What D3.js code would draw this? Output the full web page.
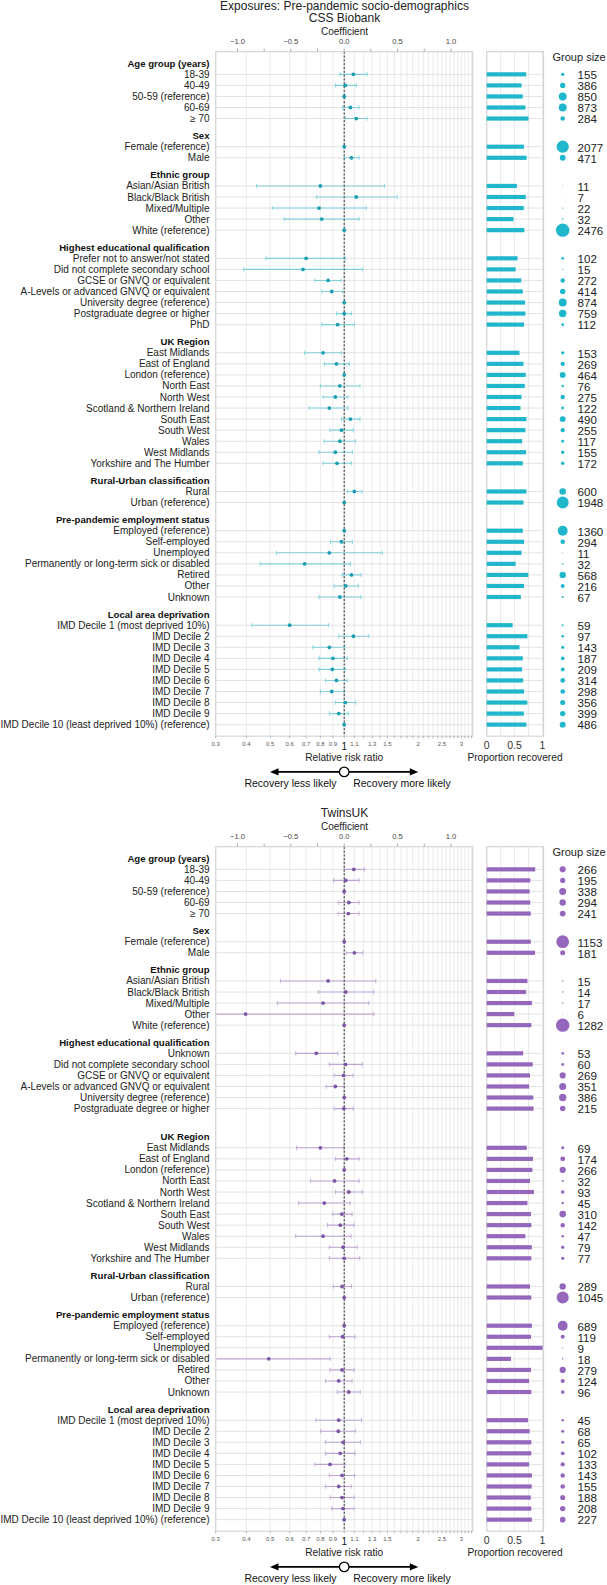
<!DOCTYPE html>
<html><head><meta charset="utf-8">
<script src="https://cdn.jsdelivr.net/npm/d3@7"></script>
<style>
body{margin:0;background:#fff}
svg{display:block}
text{font-family:"Liberation Sans",Arial,Helvetica,sans-serif}
</style>
</head><body>
<svg id="c" width="607" height="1585"></svg>
<script>
// ---------------- DATA ----------------
const mainTitle = "Exposures: Pre-pandemic socio-demographics";
const groupTitles = ["Age group (years)", "Sex", "Ethnic group", "Highest educational qualification",
  "UK Region", "Rural-Urban classification", "Pre-pandemic employment status", "Local area deprivation"];

const ageLabels = ["18-39", "40-49", "50-59 (reference)", "60-69", "≥ 70"];
const sexLabels = ["Female (reference)", "Male"];
const ethnicLabels = ["Asian/Asian British", "Black/Black British", "Mixed/Multiple", "Other", "White (reference)"];
const eduLabelsCSS = ["Prefer not to answer/not stated", "Did not complete secondary school", "GCSE or GNVQ or equivalent",
  "A-Levels or advanced GNVQ or equivalent", "University degree (reference)", "Postgraduate degree or higher", "PhD"];
const eduLabelsTwins = ["Unknown", "Did not complete secondary school", "GCSE or GNVQ or equivalent",
  "A-Levels or advanced GNVQ or equivalent", "University degree (reference)", "Postgraduate degree or higher", null];
const regionLabels = ["East Midlands", "East of England", "London (reference)", "North East", "North West",
  "Scotland & Northern Ireland", "South East", "South West", "Wales", "West Midlands", "Yorkshire and The Humber"];
const ruralLabels = ["Rural", "Urban (reference)"];
const employLabels = ["Employed (reference)", "Self-employed", "Unemployed", "Permanently or long-term sick or disabled",
  "Retired", "Other", "Unknown"];
const imdLabels = ["IMD Decile 1 (most deprived 10%)", "IMD Decile 2", "IMD Decile 3", "IMD Decile 4", "IMD Decile 5",
  "IMD Decile 6", "IMD Decile 7", "IMD Decile 8", "IMD Decile 9", "IMD Decile 10 (least deprived 10%) (reference)"];

// CSS Biobank: relative risk ratio estimate, lower and upper 95% CI
const cssRR = [
  [1.09, 1.01, 1, 1.06, 1.12],
  [1, 1.07],
  [0.80, 1.12, 0.79, 0.81, 1],
  [0.70, 0.68, 0.86, 0.89, 1, 1.00, 0.94],
  [0.82, 0.93, 1, 0.96, 0.92, 0.87, 1.06, 0.975, 0.96, 0.92, 0.935],
  [1.10, 1],
  [1, 0.975, 0.87, 0.69, 1.07, 1.015, 0.96],
  [0.60, 1.09, 0.87, 0.90, 0.895, 0.93, 0.89, 1.01, 0.95, 1]
];
const cssLower = [
  [0.96, 0.92, null, 0.985, 1.01],
  [null, 1.00],
  [0.44, 0.77, 0.51, 0.57, null],
  [0.48, 0.39, 0.76, 0.81, null, 0.93, 0.81],
  [0.69, 0.83, null, 0.80, 0.82, 0.72, 0.975, 0.875, 0.83, 0.79, 0.82],
  [1.03, null],
  [null, 0.88, 0.53, 0.455, 0.98, 0.91, 0.79],
  [0.42, 0.95, 0.745, 0.79, 0.79, 0.84, 0.80, 0.92, 0.87, null]
];
const cssUpper = [
  [1.24, 1.12, null, 1.15, 1.24],
  [null, 1.15],
  [1.46, 1.64, 1.23, 1.15, null],
  [1.01, 1.19, 0.97, 0.985, null, 1.07, 1.10],
  [0.975, 1.05, null, 1.16, 1.035, 1.035, 1.16, 1.09, 1.11, 1.08, 1.07],
  [1.18, null],
  [null, 1.08, 1.43, 1.06, 1.17, 1.14, 1.17],
  [0.865, 1.26, 1.006, 1.03, 1.01, 1.03, 1.0, 1.11, 1.04, null]
];
const cssProp = [
  [0.708, 0.625, 0.646, 0.694, 0.75],
  [0.667, 0.715],
  [0.54, 0.70, 0.665, 0.48, 0.676],
  [0.553, 0.518, 0.618, 0.647, 0.688, 0.694, 0.67],
  [0.588, 0.659, 0.70, 0.682, 0.624, 0.606, 0.712, 0.694, 0.635, 0.706, 0.647],
  [0.712, 0.659],
  [0.647, 0.67, 0.624, 0.518, 0.747, 0.67, 0.612],
  [0.465, 0.729, 0.588, 0.647, 0.635, 0.653, 0.67, 0.729, 0.665, 0.712]
];
const cssN = [
  [155, 386, 850, 873, 284],
  [2077, 471],
  [11, 7, 22, 32, 2476],
  [102, 15, 272, 414, 874, 759, 112],
  [153, 269, 464, 76, 275, 122, 490, 255, 117, 155, 172],
  [600, 1948],
  [1360, 294, 11, 32, 568, 216, 67],
  [59, 97, 143, 187, 209, 314, 298, 356, 399, 486]
];

// TwinsUK
const twinsRR = [
  [1.094, 1.015, 1, 1.045, 1.04],
  [1, 1.10],
  [0.86, 1.015, 0.82, 0.397, 1],
  [0.77, 1.012, 0.994, 0.92, 1, 0.997, null],
  [0.80, 1.025, 1, 0.914, 1.044, 0.83, 0.978, 0.964, 0.82, 0.99, 1.0],
  [0.98, 1],
  [1, 0.985, null, 0.493, 0.98, 0.95, 1.044],
  [0.95, 0.946, 0.99, 0.964, 0.876, 0.98, 0.95, 0.98, 0.988, 1]
];
const twinsLower = [
  [1.0, 0.905, null, 0.95, 0.945],
  [null, 1.02],
  [0.55, 0.786, 0.534, 0.2, null],
  [0.635, 0.87, 0.91, 0.844, null, 0.91, null],
  [0.64, 0.92, null, 0.73, 0.92, 0.653, 0.898, 0.855, 0.635, 0.87, 0.87],
  [0.903, null],
  [null, 0.87, null, 0.2, 0.875, 0.84, 0.937],
  [0.767, 0.803, 0.84, 0.84, 0.76, 0.87, 0.84, 0.878, 0.89, null]
];
const twinsUpper = [
  [1.21, 1.15, null, 1.15, 1.15],
  [null, 1.19],
  [1.345, 1.32, 1.26, 1.32, null],
  [0.943, 1.185, 1.087, 1.0, null, 1.09, null],
  [0.997, 1.15, null, 1.15, 1.185, 1.057, 1.077, 1.097, 1.067, 1.128, 1.156],
  [1.07, null],
  [null, 1.107, null, 0.878, 1.097, 1.077, 1.163],
  [1.178, 1.11, 1.163, 1.107, 1.009, 1.104, 1.07, 1.097, 1.097, null]
];
const twinsProp = [
  [0.87, 0.78, 0.77, 0.78, 0.79],
  [0.79, 0.865],
  [0.73, 0.706, 0.81, 0.494, 0.80],
  [0.653, 0.824, 0.776, 0.76, 0.835, 0.84, null],
  [0.718, 0.83, 0.818, 0.776, 0.847, 0.73, 0.794, 0.80, 0.694, 0.81, 0.80],
  [0.776, 0.80],
  [0.81, 0.794, 1.0, 0.435, 0.794, 0.76, 0.80],
  [0.74, 0.77, 0.80, 0.80, 0.76, 0.81, 0.806, 0.79, 0.80, 0.81]
];
const twinsN = [
  [266, 195, 338, 294, 241],
  [1153, 181],
  [15, 14, 17, 6, 1282],
  [53, 60, 269, 351, 386, 215, null],
  [69, 174, 266, 32, 93, 45, 310, 142, 47, 79, 77],
  [289, 1045],
  [689, 119, 9, 18, 279, 124, 96],
  [45, 68, 65, 102, 133, 143, 155, 188, 208, 227]
];

const rrGridValues = d3.range(3, 34).map(d => d / 10);
const rrTickLabels = [0.3, 0.4, 0.5, 0.6, 0.7, 0.8, 0.9, 1.1, 1.3, 1.5, 2, 2.5, 3];
const coefTicks = [-1, -0.75, -0.5, -0.25, 0, 0.25, 0.5, 0.75, 1];
const coefTickLabels = [-1, -0.5, 0, 0.5, 1];
const propTicks = [0, 0.5, 1];
const propGrid = [0, 0.25, 0.5, 0.75, 1];

// ---------------- DRAWING ----------------
const svg = d3.select("#c");
const forestX = [215.7, 472.7];
const rrScale = d3.scaleLog().domain([0.3, 1 / 0.3]).range(forestX);
const coefScale = d3.scaleLinear().domain([Math.log(0.3), -Math.log(0.3)]).range(forestX);
const propScale = d3.scaleLinear().domain([0, 1]).range([486.7, 542.5]);
const propPanel = [486.7, 543.5];
const labelRight = 209.5;
const legendCircleX = 562.7, legendTextX = 577.5;

function drawCohort(cfg) {
  const g = svg.append("g");
  const top = cfg.top;            // panel top
  const bottom = top + 684.5;     // panel bottom
  const firstRow = top + 11.6;
  const labelGroups = [ageLabels, sexLabels, ethnicLabels, cfg.eduLabels, regionLabels, ruralLabels, employLabels, imdLabels];

  // slot positions
  const rows = [], headers = [];
  let pos = 0;
  labelGroups.forEach((labs, gi) => {
    if (gi > 0) pos += 1.55; else pos = 0;
    headers.push({ title: groupTitles[gi], pos });
    labs.forEach((lab, i) => {
      pos += 1;
      rows.push({ label: lab, pos, rr: cfg.rr[gi][i], lo: cfg.lo[gi][i], hi: cfg.hi[gi][i],
        prop: cfg.prop[gi][i], n: cfg.n[gi][i] });
    });
  });
  const y = d3.scaleLinear().domain([0, 1]).range([firstRow, firstRow + 11.05]);

  // titles
  if (cfg.mainTitle) {
    g.append("text").attr("x", 344.5).attr("y", top - 45.7).attr("text-anchor", "middle")
      .attr("dominant-baseline", "central").attr("font-size", 12).attr("fill", "#222").text(cfg.mainTitle);
  }
  g.append("text").attr("x", 344.5).attr("y", top - 33.4).attr("text-anchor", "middle")
    .attr("dominant-baseline", "central").attr("font-size", 12).attr("fill", "#222").text(cfg.title);
  g.append("text").attr("x", 344.5).attr("y", top - 20).attr("text-anchor", "middle")
    .attr("dominant-baseline", "central").attr("font-size", 10).attr("fill", "#222").text("Coefficient");

  // panels
  g.append("rect").attr("x", forestX[0]).attr("y", top).attr("width", forestX[1] - forestX[0])
    .attr("height", bottom - top).attr("fill", "#fff");
  g.append("rect").attr("x", propPanel[0]).attr("y", top).attr("width", propPanel[1] - propPanel[0])
    .attr("height", bottom - top).attr("fill", "#fff");

  // vertical grid (forest)
  g.append("g").selectAll("line").data(rrGridValues.filter(v => v < 3.33)).join("line")
    .attr("x1", d => rrScale(d)).attr("x2", d => rrScale(d)).attr("y1", top).attr("y2", bottom)
    .attr("stroke", "#e6e6e6").attr("stroke-width", 0.8);
  // vertical grid (prop)
  g.append("g").selectAll("line").data(propGrid).join("line")
    .attr("x1", d => propScale(d)).attr("x2", d => propScale(d)).attr("y1", top).attr("y2", bottom)
    .attr("stroke", "#e3e3e3").attr("stroke-width", 0.8);

  const items = rows.filter(r => r.label !== null);
  // horizontal grid
  g.append("g").selectAll("line").data(items).join("line")
    .attr("x1", forestX[0]).attr("x2", forestX[1]).attr("y1", d => y(d.pos)).attr("y2", d => y(d.pos))
    .attr("stroke", "#e2e2e2").attr("stroke-width", 1);
  g.append("g").selectAll("line").data(items).join("line")
    .attr("x1", propPanel[0]).attr("x2", propPanel[1]).attr("y1", d => y(d.pos)).attr("y2", d => y(d.pos))
    .attr("stroke", "#e2e2e2").attr("stroke-width", 1);

  // dashed line at RR=1
  g.append("line").attr("x1", rrScale(1)).attr("x2", rrScale(1)).attr("y1", top).attr("y2", bottom)
    .attr("stroke", "#111").attr("stroke-width", 0.9).attr("stroke-dasharray", "2.2,1.6");

  // clip
  const clipId = "clip" + cfg.key;
  svg.append("clipPath").attr("id", clipId).append("rect")
    .attr("x", forestX[0]).attr("y", top).attr("width", forestX[1] - forestX[0]).attr("height", bottom - top);
  const fg = g.append("g").attr("clip-path", `url(#${clipId})`);

  const ci = items.filter(d => d.lo !== null && d.hi !== null);
  fg.append("g").selectAll("line").data(ci).join("line")
    .attr("x1", d => rrScale(d.lo)).attr("x2", d => rrScale(d.hi))
    .attr("y1", d => y(d.pos)).attr("y2", d => y(d.pos))
    .attr("stroke", cfg.color).attr("stroke-opacity", 0.5).attr("stroke-width", 1.1);
  const caps = [];
  ci.forEach(d => { caps.push({ v: d.lo, pos: d.pos }); caps.push({ v: d.hi, pos: d.pos }); });
  fg.append("g").selectAll("line").data(caps).join("line")
    .attr("x1", d => rrScale(d.v)).attr("x2", d => rrScale(d.v))
    .attr("y1", d => y(d.pos) - 2.3).attr("y2", d => y(d.pos) + 2.3)
    .attr("stroke", cfg.color).attr("stroke-opacity", 0.5).attr("stroke-width", 0.9);
  fg.append("g").selectAll("circle").data(items.filter(d => d.rr !== null)).join("circle")
    .attr("cx", d => rrScale(d.rr)).attr("cy", d => y(d.pos)).attr("r", 1.9)
    .attr("fill", cfg.dark);

  // panel borders
  g.append("rect").attr("x", forestX[0]).attr("y", top).attr("width", forestX[1] - forestX[0])
    .attr("height", bottom - top).attr("fill", "none").attr("stroke", "#d6d6d6").attr("stroke-width", 1.2);
  g.append("rect").attr("x", propPanel[0]).attr("y", top).attr("width", propPanel[1] - propPanel[0])
    .attr("height", bottom - top).attr("fill", "none").attr("stroke", "#d6d6d6").attr("stroke-width", 1.2);

  // proportion bars
  g.append("g").selectAll("rect").data(items.filter(d => d.prop !== null)).join("rect")
    .attr("x", propScale(0)).attr("y", d => y(d.pos) - 2.1)
    .attr("width", d => propScale(d.prop) - propScale(0)).attr("height", 4.2)
    .attr("fill", cfg.color);

  // labels
  g.append("g").selectAll("text").data(items).join("text")
    .attr("x", labelRight).attr("y", d => y(d.pos)).attr("text-anchor", "end")
    .attr("dominant-baseline", "central").attr("font-size", 10).attr("fill", "#222").text(d => d.label);
  g.append("g").selectAll("text").data(headers).join("text")
    .attr("x", labelRight).attr("y", d => y(d.pos)).attr("text-anchor", "end")
    .attr("dominant-baseline", "central").attr("font-size", 9.6).attr("font-weight", "bold")
    .attr("fill", "#111").text(d => d.title);

  // top coefficient axis
  g.append("g").selectAll("line").data(coefTicks).join("line")
    .attr("x1", d => coefScale(d)).attr("x2", d => coefScale(d)).attr("y1", top - 3).attr("y2", top - 0.5)
    .attr("stroke", "#666").attr("stroke-width", 0.6);
  g.append("g").selectAll("text").data(coefTickLabels).join("text")
    .attr("x", d => coefScale(d)).attr("y", top - 10).attr("text-anchor", "middle")
    .attr("dominant-baseline", "central").attr("font-size", 7.6).attr("fill", "#444")
    .text(d => (d < 0 ? "\u2212" : "") + d3.format(".1f")(Math.abs(d)));

  // bottom RR axis
  g.append("g").selectAll("line").data(rrGridValues.filter(v => v < 3.33)).join("line")
    .attr("x1", d => rrScale(d)).attr("x2", d => rrScale(d)).attr("y1", bottom).attr("y2", bottom + 2.2)
    .attr("stroke", "#777").attr("stroke-width", 0.5);
  g.append("g").selectAll("text").data(rrTickLabels).join("text")
    .attr("x", d => rrScale(d)).attr("y", bottom + 7.3).attr("text-anchor", "middle")
    .attr("dominant-baseline", "central").attr("font-size", 6).attr("fill", "#555").text(d => d);
  g.append("text").attr("x", rrScale(1)).attr("y", bottom + 9.8).attr("text-anchor", "middle")
    .attr("dominant-baseline", "central").attr("font-size", 10).attr("fill", "#111").text("1");
  g.append("text").attr("x", rrScale(1)).attr("y", bottom + 21.3).attr("text-anchor", "middle")
    .attr("dominant-baseline", "central").attr("font-size", 10.2).attr("fill", "#222").text("Relative risk ratio");

  // prop axis
  g.append("g").selectAll("text").data(propTicks).join("text")
    .attr("x", d => propScale(d)).attr("y", bottom + 9).attr("text-anchor", "middle")
    .attr("dominant-baseline", "central").attr("font-size", 10.5).attr("fill", "#333").text(d => d);
  g.append("text").attr("x", 515).attr("y", bottom + 21.3).attr("text-anchor", "middle")
    .attr("dominant-baseline", "central").attr("font-size", 10.2).attr("fill", "#222").text("Proportion recovered");

  // arrows
  const ay = bottom + 35.7, cx = rrScale(1);
  const ag = g.append("g");
  ag.append("line").attr("x1", 276).attr("x2", 412).attr("y1", ay).attr("y2", ay)
    .attr("stroke", "#000").attr("stroke-width", 1.8);
  ag.append("path").attr("d", `M${270},${ay} L${278.5},${ay - 3.6} L${278.5},${ay + 3.6} Z`).attr("fill", "#000");
  ag.append("path").attr("d", `M${418.3},${ay} L${409.8},${ay - 3.6} L${409.8},${ay + 3.6} Z`).attr("fill", "#000");
  ag.append("circle").attr("cx", cx).attr("cy", ay).attr("r", 4.8).attr("fill", "#fff")
    .attr("stroke", "#000").attr("stroke-width", 1.3);
  ag.append("text").attr("x", cx - 7.6).attr("y", ay + 11).attr("text-anchor", "end")
    .attr("dominant-baseline", "central").attr("font-size", 10.5).attr("fill", "#111").text("Recovery less likely");
  ag.append("text").attr("x", cx + 9).attr("y", ay + 11).attr("text-anchor", "start")
    .attr("dominant-baseline", "central").attr("font-size", 10.5).attr("fill", "#111").text("Recovery more likely");

  // group size legend
  const maxN = d3.max(items, d => d.n);
  const rScale = d3.scaleSqrt().domain([0, maxN]).range([0, 6.7]);
  g.append("text").attr("x", 552.5).attr("y", top + 5).attr("dominant-baseline", "central")
    .attr("font-size", 11).attr("fill", "#222").text("Group size");
  const nItems = items.filter(d => d.n !== null);
  g.append("g").selectAll("circle").data(nItems).join("circle")
    .attr("cx", legendCircleX).attr("cy", d => y(d.pos)).attr("r", d => rScale(d.n)).attr("fill", cfg.color);
  g.append("g").selectAll("text").data(nItems).join("text")
    .attr("x", legendTextX).attr("y", d => y(d.pos) + 0.3).attr("dominant-baseline", "central")
    .attr("font-size", 11.6).attr("fill", "#222").text(d => d.n);
}

drawCohort({ key: "css", top: 51.7, title: "CSS Biobank", mainTitle: mainTitle, eduLabels: eduLabelsCSS,
  rr: cssRR, lo: cssLower, hi: cssUpper, prop: cssProp, n: cssN, color: "#20b7cc", dark: "#1a9fb2" });
drawCohort({ key: "twins", top: 846.7, title: "TwinsUK", mainTitle: null, eduLabels: eduLabelsTwins,
  rr: twinsRR, lo: twinsLower, hi: twinsUpper, prop: twinsProp, n: twinsN, color: "#9467bd", dark: "#7d55a6" });
</script>
</body></html>
